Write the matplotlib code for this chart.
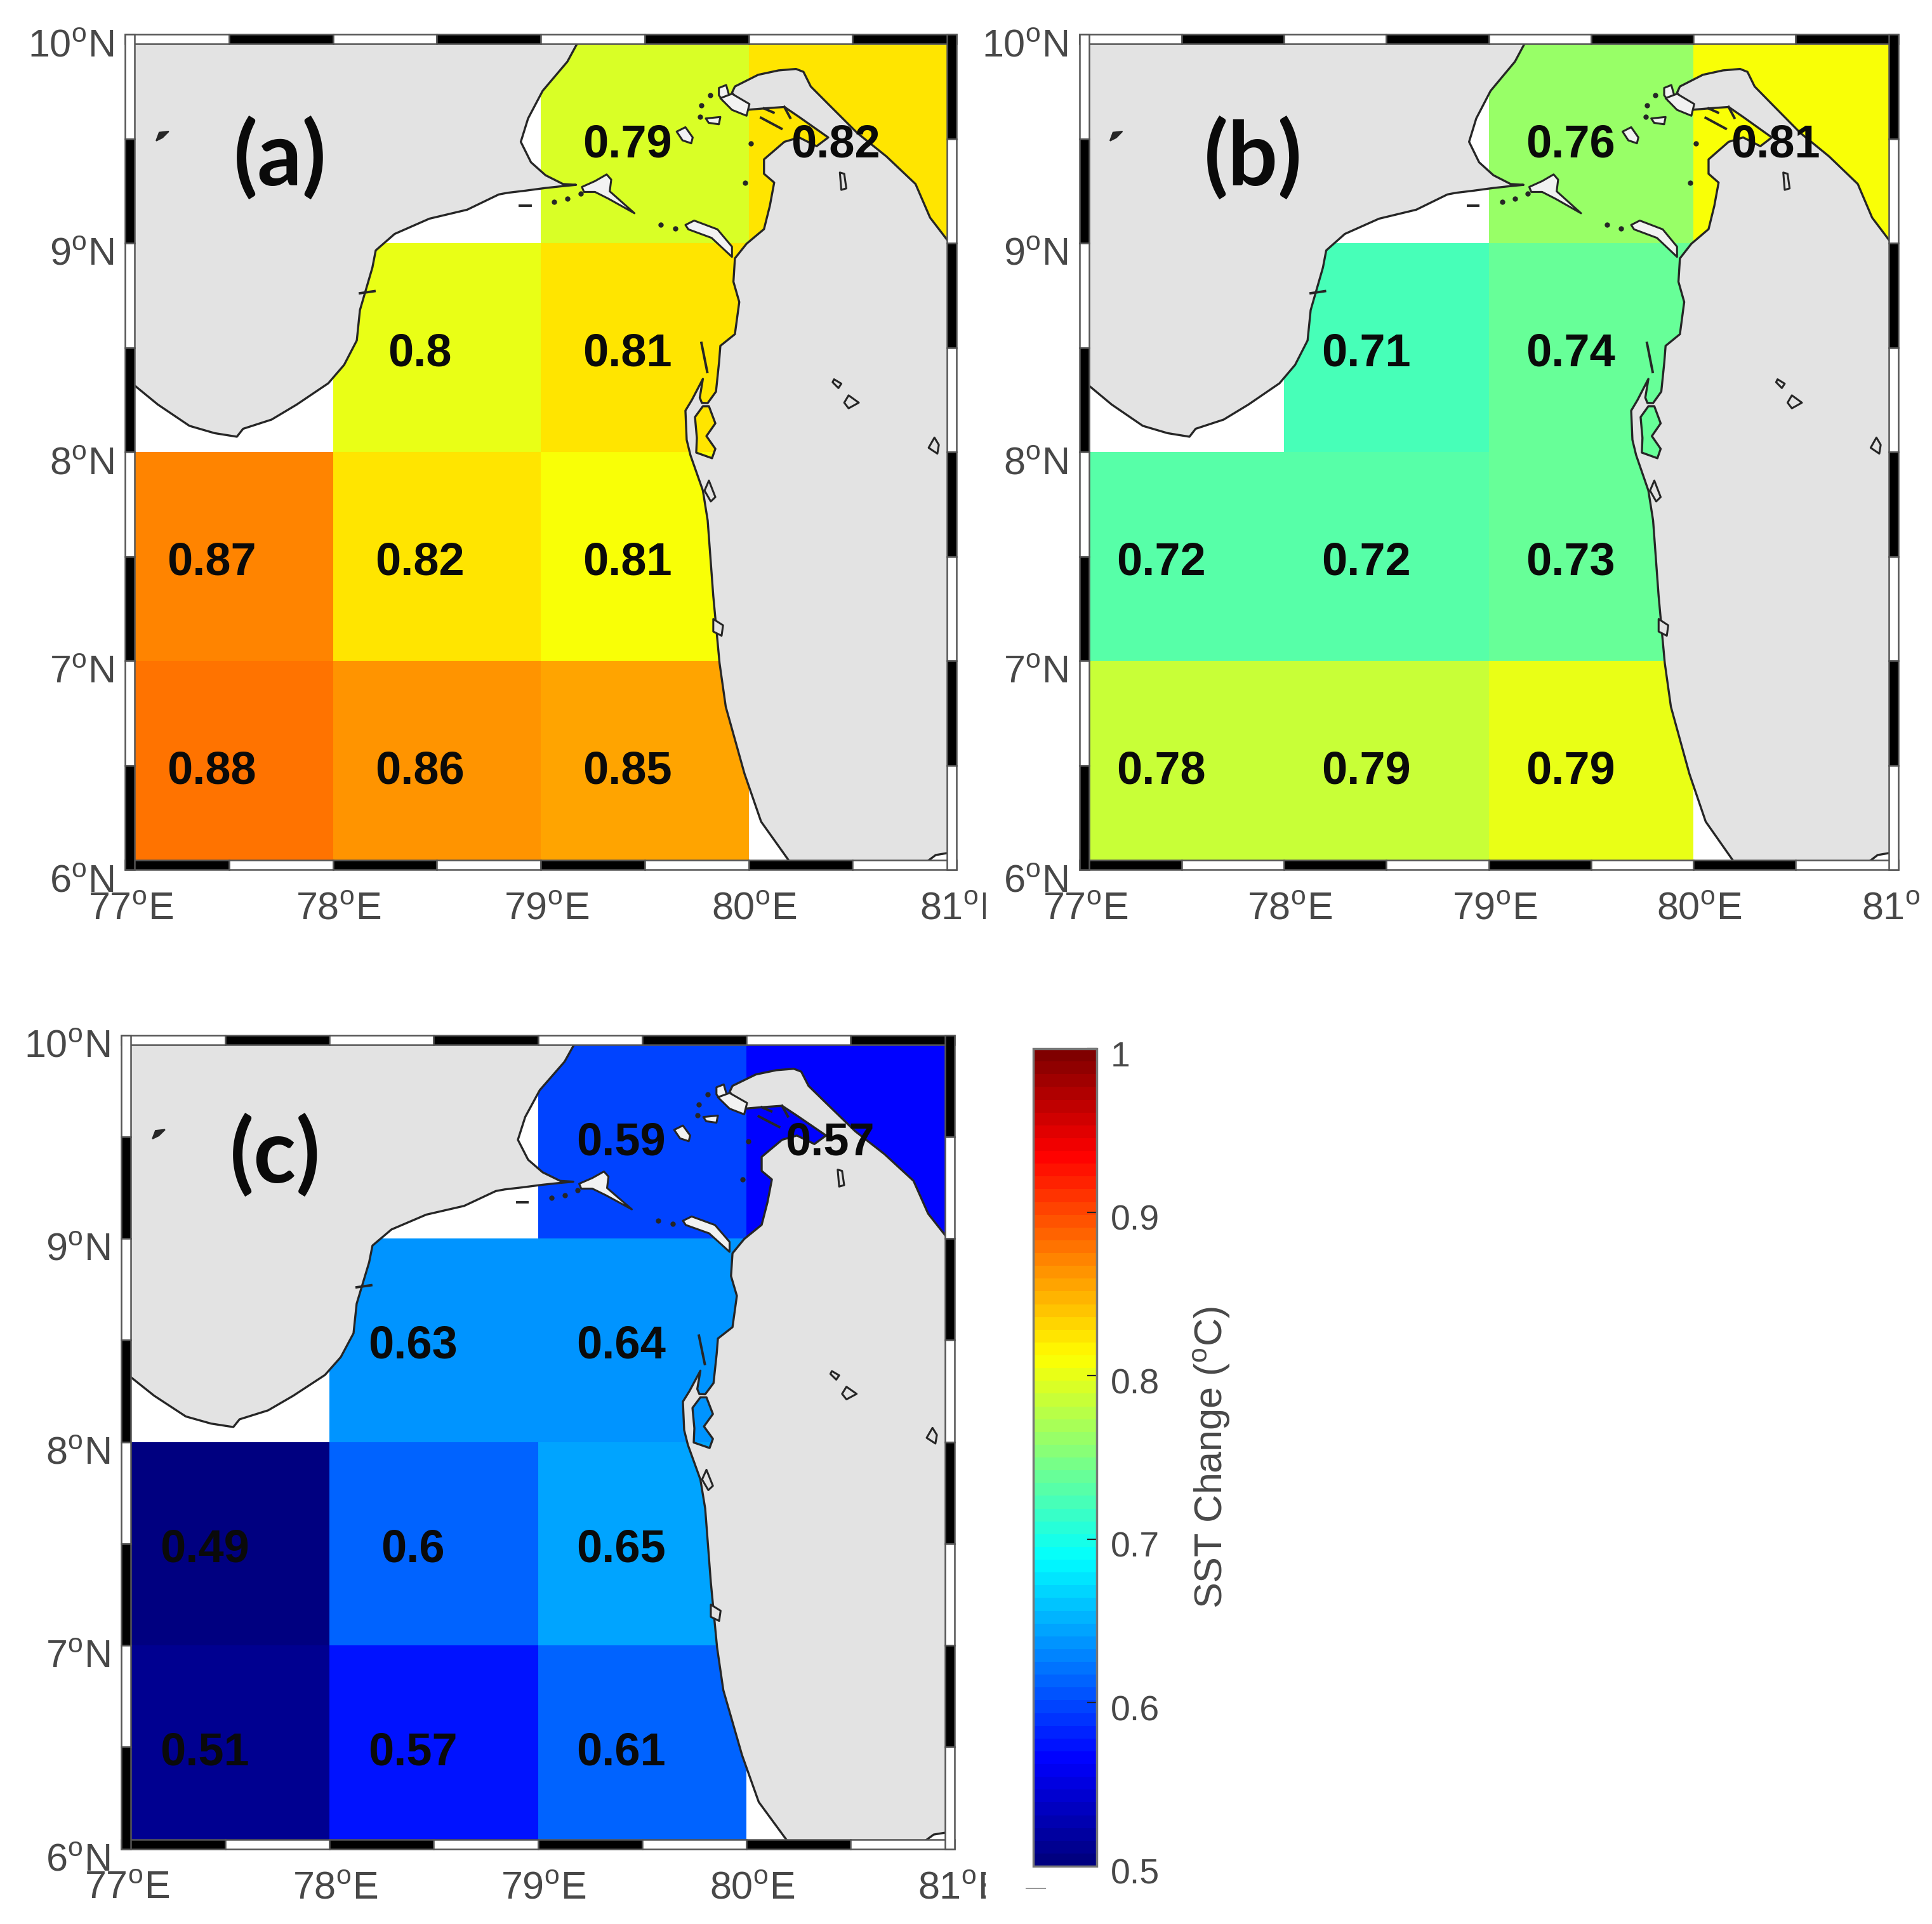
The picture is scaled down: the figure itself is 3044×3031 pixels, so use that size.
import numpy as np
import matplotlib
matplotlib.use('Agg')
import matplotlib.pyplot as plt
from matplotlib.colors import LinearSegmentedColormap, Normalize
from matplotlib.patches import Rectangle, Polygon, PathPatch
from matplotlib.path import Path
from matplotlib.cm import ScalarMappable
from matplotlib.transforms import ScaledTranslation, Bbox

plt.rcParams['font.family'] = ['Liberation Sans', 'DejaVu Sans']
plt.rcParams['mathtext.fontset'] = 'custom'
plt.rcParams['mathtext.rm'] = 'Liberation Sans'

W, H = 3044, 3031

lon_edges = [77, 78, 79, 80, 81]
lat_edges = [6, 7, 8, 9, 10]
nan = np.nan

# cell values, bottom row first
values_a = [[0.882, 0.863, 0.855, nan],
            [0.869, 0.823, 0.812, nan],
            [nan, 0.801, 0.823, nan],
            [nan, nan, 0.793, 0.825]]
values_b = [[0.782, 0.787, 0.797, nan],
            [0.727, 0.727, 0.735, nan],
            [nan, 0.719, 0.742, nan],
            [nan, nan, 0.765, 0.812]]
values_c = [[0.515, 0.575, 0.615, nan],
            [0.490, 0.610, 0.648, nan],
            [nan, 0.633, 0.640, nan],
            [nan, nan, 0.594, 0.567]]

# printed labels, same layout
labels_a = [['0.88', '0.86', '0.85', ''],
            ['0.87', '0.82', '0.81', ''],
            ['', '0.8', '0.81', ''],
            ['', '', '0.79', '0.82']]
labels_b = [['0.78', '0.79', '0.79', ''],
            ['0.72', '0.72', '0.73', ''],
            ['', '0.71', '0.74', ''],
            ['', '', '0.76', '0.81']]
labels_c = [['0.51', '0.57', '0.61', ''],
            ['0.49', '0.6', '0.65', ''],
            ['', '0.63', '0.64', ''],
            ['', '', '0.59', '0.57']]

lon_ticks = [77, 78, 79, 80, 81]
lat_ticks = [6, 7, 8, 9, 10]
cbar_ticks = [0.5, 0.6, 0.7, 0.8, 0.9, 1]
cbar_ticklabels = ['0.5', '0.6', '0.7', '0.8', '0.9', '1']

# coastlines, lon / lat
india = [(79.19, 10.1), (79.19, 10.0), (79.177, 9.959), (79.128, 9.869), (79.009, 9.729),
         (78.939, 9.597), (78.904, 9.485), (78.953, 9.387), (79.023, 9.325), (79.107, 9.283),
         (79.17, 9.279), (79.107, 9.273), (79.023, 9.264), (78.925, 9.251), (78.841, 9.241),
         (78.798, 9.233), (78.646, 9.16), (78.464, 9.117), (78.297, 9.044), (78.206, 8.965),
         (78.19, 8.883), (78.13, 8.679), (78.115, 8.534), (78.054, 8.417), (77.978, 8.329),
         (77.826, 8.227), (77.705, 8.155), (77.568, 8.111), (77.538, 8.073), (77.431, 8.09),
         (77.31, 8.125), (77.158, 8.227), (77.05, 8.315), (76.9, 8.42), (76.9, 10.1)]
sri_lanka = [(81.1, 8.95), (80.964, 9.004), (80.873, 9.122), (80.803, 9.283), (80.663, 9.415),
             (80.523, 9.527), (80.383, 9.666), (80.299, 9.75), (80.264, 9.82), (80.228, 9.834),
             (80.144, 9.827), (80.046, 9.806), (79.934, 9.75), (79.92, 9.72), (79.99, 9.638),
             (80.074, 9.645), (80.172, 9.652), (80.243, 9.604), (80.383, 9.506), (80.327, 9.464),
             (80.243, 9.506), (80.172, 9.485), (80.074, 9.401), (80.074, 9.332), (80.123, 9.29),
             (80.102, 9.178), (80.074, 9.067), (79.99, 8.997), (79.934, 8.927), (79.927, 8.815),
             (79.955, 8.718), (79.934, 8.564), (79.864, 8.508), (79.858, 8.432), (79.843, 8.289),
             (79.803, 8.234), (79.775, 8.235), (79.765, 8.26), (79.78, 8.35), (79.727, 8.249),
             (79.696, 8.198), (79.702, 8.058), (79.72, 7.985), (79.78, 7.815), (79.803, 7.672),
             (79.83, 7.31), (79.86, 6.99), (79.89, 6.78), (79.98, 6.46), (80.06, 6.23),
             (80.196, 6.04), (80.27, 5.95), (80.85, 5.95), (80.86, 6.04), (80.9, 6.07),
             (80.96, 6.08), (81.1, 6.08)]
puttalam = [(79.78, 8.219), (79.809, 8.219), (79.84, 8.137), (79.797, 8.076), (79.84, 8.015),
            (79.824, 7.97), (79.748, 7.997), (79.751, 8.067), (79.742, 8.167)]

islands = [
    [(79.198, 9.269), (79.261, 9.297), (79.317, 9.329), (79.339, 9.304), (79.332, 9.248),
     (79.451, 9.143), (79.325, 9.213), (79.261, 9.245), (79.208, 9.245)],
    [(79.696, 9.087), (79.738, 9.108), (79.85, 9.066), (79.92, 8.983), (79.92, 8.934),
     (79.822, 9.025), (79.71, 9.066)],
    [(79.654, 9.534), (79.696, 9.555), (79.731, 9.506), (79.724, 9.478), (79.682, 9.492)],
    [(79.857, 9.743), (79.892, 9.757), (79.906, 9.708), (79.878, 9.68), (79.857, 9.708)],
    [(79.864, 9.694), (79.92, 9.715), (80.004, 9.666), (79.99, 9.61), (79.92, 9.638)],
    [(79.794, 9.597), (79.864, 9.604), (79.857, 9.569), (79.808, 9.576)],
]
lakes = [
    [(80.439, 9.338), (80.46, 9.332), (80.47, 9.262), (80.446, 9.255)],
    [(80.411, 8.348), (80.446, 8.327), (80.432, 8.306), (80.404, 8.334)],
    [(80.481, 8.271), (80.53, 8.236), (80.481, 8.209), (80.46, 8.236)],
    [(80.894, 8.069), (80.915, 8.034), (80.908, 7.992), (80.866, 8.02)],
    [(79.809, 7.863), (79.84, 7.784), (79.818, 7.763), (79.788, 7.815)],
    [(79.83, 7.2), (79.877, 7.17), (79.87, 7.12), (79.83, 7.14)],
]
speck = [(77.15, 9.49), (77.165, 9.53), (77.21, 9.535), (77.18, 9.505)]
coast_strokes = [
    [(79.773, 8.522), (79.801, 8.383)],
    [(80.06, 9.6), (80.158, 9.548)],
    [(80.074, 9.645), (80.12, 9.625)],
    [(80.172, 9.652), (80.2, 9.6)],
    [(78.13, 8.76), (78.2, 8.77)],
    [(78.9, 9.178), (78.95, 9.178)],
]
shoal_lon = [79.773, 79.766, 79.815, 80.011, 79.983, 79.065, 79.128, 79.191, 79.577, 79.647]
shoal_lat = [9.659, 9.604, 9.708, 9.478, 9.29, 9.199, 9.213, 9.237, 9.087, 9.071]

# MATLAB style jet, 64 steps
jet64 = LinearSegmentedColormap(
    'jet64',
    {'red': [(0, 0, 0), (0.375, 0, 0), (0.625, 1, 1), (0.875, 1, 1), (1, 0.5, 0.5)],
     'green': [(0, 0, 0), (0.125, 0, 0), (0.375, 1, 1), (0.625, 1, 1), (0.875, 0, 0), (1, 0, 0)],
     'blue': [(0, 0.5, 0.5), (0.125, 1, 1), (0.375, 1, 1), (0.625, 0, 0), (1, 0, 0)]},
    N=64)
norm = Normalize(0.5, 1)

LAND = '#e3e3e3'
COAST = '#262626'
GREY = '#484848'
BAND = 15


def px_axes(x0, y0, x1, y1):
    return fig.add_axes([x0 / W, 1 - y1 / H, (x1 - x0) / W, (y1 - y0) / H])


def draw_frame(ax, box):
    bw = BAND / (box[2] - box[0])
    bh = BAND / (box[3] - box[1])
    xt = ax.get_xaxis_transform()
    yt = ax.get_yaxis_transform()
    style = dict(edgecolor='#555555', linewidth=1.8, zorder=6, clip_on=False)
    for i, x in enumerate(np.arange(77, 81, 0.5)):
        top = 'black' if i % 2 else 'white'
        bottom = 'white' if i % 2 else 'black'
        ax.add_patch(Rectangle((x, 1 - bh), 0.5, bh, transform=xt, facecolor=top, **style))
        ax.add_patch(Rectangle((x, 0), 0.5, bh, transform=xt, facecolor=bottom, **style))
    for i, y in enumerate(np.arange(9.5, 5.9, -0.5)):
        left = 'black' if i % 2 else 'white'
        right = 'white' if i % 2 else 'black'
        ax.add_patch(Rectangle((0, y), bw, 0.5, transform=yt, facecolor=left, **style))
        ax.add_patch(Rectangle((1 - bw, y), bw, 0.5, transform=yt, facecolor=right, **style))


def draw_land(ax):
    ax.add_patch(Polygon(india, closed=True, facecolor=LAND, edgecolor=COAST, linewidth=2.4,
                         joinstyle='round', zorder=2))
    verts = sri_lanka + [sri_lanka[0]] + puttalam + [puttalam[0]]
    codes = ([Path.MOVETO] + [Path.LINETO] * (len(sri_lanka) - 1) + [Path.CLOSEPOLY]
             + [Path.MOVETO] + [Path.LINETO] * (len(puttalam) - 1) + [Path.CLOSEPOLY])
    ax.add_patch(PathPatch(Path(verts, codes), facecolor=LAND, edgecolor=COAST, linewidth=2.4,
                           joinstyle='round', zorder=2))
    for shape in islands:
        ax.add_patch(Polygon(shape, closed=True, facecolor='#f2f2f2', edgecolor=COAST, linewidth=2.2,
                             joinstyle='round', zorder=3))
    for shape in lakes:
        ax.add_patch(Polygon(shape, closed=True, facecolor=LAND, edgecolor=COAST, linewidth=2.2,
                             joinstyle='round', zorder=3))
    ax.add_patch(Polygon(speck, closed=True, facecolor=COAST, edgecolor=COAST, linewidth=1.5, zorder=3))
    for stroke in coast_strokes:
        xs, ys = zip(*stroke)
        ax.plot(xs, ys, color=COAST, linewidth=2.8, zorder=3)
    ax.scatter(shoal_lon, shoal_lat, s=36, color=COAST, linewidths=0, zorder=3)


def draw_panel(box, values, labels, tag, tag_pos, dx, clip_x):
    ax = px_axes(*box)
    ax.pcolormesh(lon_edges, lat_edges, np.ma.masked_invalid(values), cmap=jet64, norm=norm, zorder=1)
    draw_land(ax)
    for r, row in enumerate(labels):
        for c, s in enumerate(row):
            if s:
                ax.text(lon_edges[c] + 0.5 + dx, lat_edges[r] + 0.47, s, ha='center', va='center',
                        fontsize=52, fontweight='bold', color='#0a0a0a', zorder=4)
    ax.text(tag_pos[0], tag_pos[1], tag, ha='center', va='center', fontsize=100,
            fontweight='bold', family='Lato', color='#0a0a0a', zorder=4)
    ax.set_xlim(77, 81)
    ax.set_ylim(6, 10)
    ax.set_xticks(lon_ticks)
    ax.set_yticks(lat_ticks)
    ax.set_xticklabels(['%d$^{\\mathrm{o}}$E' % v for v in lon_ticks])
    ax.set_yticklabels(['%d$^{\\mathrm{o}}$N' % v for v in lat_ticks])
    ax.tick_params(length=0, labelsize=44, labelcolor=GREY)
    ax.tick_params(axis='x', pad=25)
    ax.tick_params(axis='y', pad=13)
    for sp in ax.spines.values():
        sp.set_visible(False)
    shift_x = ScaledTranslation(9 / 100, 0, fig.dpi_scale_trans)
    shift_y = ScaledTranslation(0, -13 / 100, fig.dpi_scale_trans)
    clip = Bbox([[0, 0], [clip_x, H]])
    for lab in ax.get_xticklabels():
        lab.set_transform(lab.get_transform() + shift_x)
        lab.set_clip_box(clip)
        lab.set_clip_on(True)
    for lab in ax.get_yticklabels():
        lab.set_transform(lab.get_transform() + shift_y)
    draw_frame(ax, box)
    return ax


fig = plt.figure(figsize=(W / 100, H / 100), dpi=100, facecolor='white')

draw_panel((197, 54, 1507, 1370), values_a, labels_a, '(a)', (77.745, 9.405), -0.082, 1553)
draw_panel((1700.6, 54, 2990.6, 1370), values_b, labels_b, '(b)', (77.85, 9.405), -0.1, 3033)
draw_panel((191, 1630.5, 1504, 2912.5), values_c, labels_c, '(c)', (77.74, 9.405), -0.1, 1553)

cax = px_axes(1628, 1652, 1728, 2940)
cbar = fig.colorbar(ScalarMappable(norm=norm, cmap=jet64), cax=cax)
cbar.set_ticks(cbar_ticks)
cbar.set_ticklabels(cbar_ticklabels)
cax.tick_params(direction='in', length=11, width=1.6, color='#222222', labelsize=40,
                labelcolor=GREY, pad=16)
cbar.outline.set_edgecolor('#777777')
cbar.outline.set_linewidth(2.5)
cbar.set_label('SST Change ($^{\\mathrm{o}}$C)', fontsize=44, color=GREY, labelpad=36)
shift = ScaledTranslation(0, -8 / 100, fig.dpi_scale_trans)
for lab in cax.get_yticklabels():
    lab.set_transform(lab.get_transform() + shift)

# small stray dash under the colour bar
fig.add_artist(plt.Line2D([1617 / W, 1647 / W], [1 - 2975 / H, 1 - 2975 / H], color='#999999', linewidth=1.5))

fig.savefig('out.png', dpi=100, facecolor='white')
